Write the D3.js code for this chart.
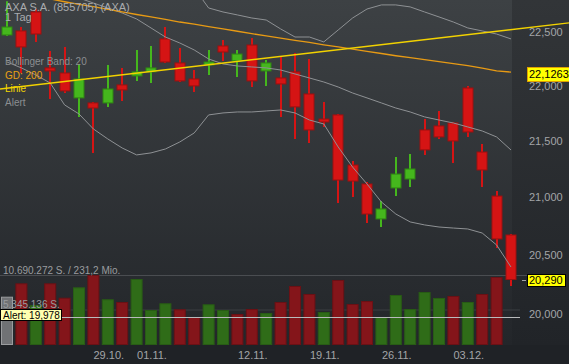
<!DOCTYPE html>
<html>
<head>
<meta charset="utf-8">
<script src="https://cdn.jsdelivr.net/npm/d3@7"></script>
<style>
    body {
        margin: 0;
        background: #1f2226;
        font-family: "Liberation Sans", Arial, sans-serif;
    }
    svg { display: block; }
    .tick-label { fill: #a3a5a8; font-size: 11px; }
    .band { fill: none; stroke: #8e9194; stroke-width: 1px; }
    .vol-label { fill: #9a9c9f; font-size: 10px; }
</style>
</head>
<body>
<script>
// daily candles, AXA S.A., 18.10. - 06.12.
const dates = ["18.10.","19.10.","22.10.","23.10.","24.10.","25.10.","26.10.","29.10.","30.10.","31.10.",
    "01.11.","02.11.","05.11.","06.11.","07.11.","08.11.","09.11.","12.11.","13.11.","14.11.",
    "15.11.","16.11.","19.11.","20.11.","21.11.","22.11.","23.11.","26.11.","27.11.","28.11.",
    "29.11.","30.11.","03.12.","04.12.","05.12.","06.12."];

const open  = [22.472,22.510,22.689,22.165,22.118,21.889,21.843,21.843,22.008,22.091,22.128,22.435,22.211,22.063,22.192,22.369,22.230,22.378,
               22.137,22.072,22.128,21.925,21.697,21.734,21.284,21.116,20.810,21.081,21.160,21.598,21.634,21.661,21.980,21.400,21.010,20.671];
const high  = [22.790,22.547,22.717,22.322,22.360,22.202,21.852,22.192,22.165,22.332,22.369,22.547,22.350,22.146,22.332,22.425,22.332,22.444,
               22.239,22.267,22.304,22.248,21.852,21.743,21.320,21.134,20.967,21.356,21.382,21.697,21.770,21.670,21.999,21.472,21.054,20.680];
const low   = [22.463,22.118,22.407,21.880,21.934,21.716,21.392,21.807,21.861,22.045,22.026,22.211,22.035,21.944,22.100,22.230,22.082,21.989,
               21.999,21.716,21.517,21.481,21.625,20.949,21.002,20.775,20.740,21.010,21.090,21.374,21.517,21.302,21.535,21.090,20.559,20.235];
const close = [22.547,22.360,22.481,22.137,21.953,22.063,21.797,21.971,21.962,22.128,22.165,22.220,22.045,21.999,22.220,22.313,22.294,22.045,
               22.211,22.017,21.807,21.598,21.670,21.151,21.142,20.853,20.897,21.204,21.249,21.419,21.535,21.499,21.580,21.240,20.637,20.290];

const volume = [7330000,9400000,6040000,9400000,7170000,8780000,10690272,6930000,6510000,10070000,5270000,6310000,5380000,4180000,6150000,5270000,
                4650000,5420000,4800000,6510000,8990000,7750000,4960000,9920000,6200000,6660000,4180000,7590000,5420000,8060000,7130000,7440000,
                6510000,7750000,10380000,null];

const bbUpper  = [23.922,23.861,23.812,23.790,23.895,23.901,23.941,23.937,23.922,23.872,23.684,23.479,23.304,22.918,22.727,22.689,22.661,22.632,
                  22.613,22.529,22.453,22.453,22.407,22.519,22.632,22.717,22.756,22.756,22.737,22.689,22.642,22.594,22.538,22.510,22.481,22.435];
const bbMiddle = [23.071,23.013,22.956,22.908,22.860,22.822,22.774,22.727,22.679,22.623,22.538,22.453,22.397,22.332,22.248,22.202,22.183,22.174,
                  22.165,22.146,22.109,22.072,22.035,21.989,21.934,21.889,21.843,21.797,21.761,21.716,21.688,21.661,21.625,21.589,21.535,21.418];
const bbLower  = [22.220,22.165,22.100,22.026,21.825,21.743,21.607,21.517,21.436,21.374,21.392,21.427,21.490,21.571,21.734,21.752,21.761,21.761,
                  21.770,21.779,21.752,21.688,21.652,21.445,21.266,21.116,20.958,20.853,20.784,20.758,20.740,20.731,20.723,20.688,20.585,20.396];
const gd200    = [22.884,22.860,22.836,22.813,22.786,22.762,22.739,22.714,22.690,22.665,22.642,22.618,22.594,22.574,22.550,22.529,22.507,22.484,
                  22.464,22.442,22.422,22.402,22.380,22.361,22.339,22.319,22.299,22.278,22.260,22.241,22.224,22.205,22.187,22.163,22.137,22.1263];

const trendLine = [["18.10.", 21.978], ["06.12.", 22.522]];
const alertLevel = 19.978;
const volumeMax = 10690272;
const volumeMaxTurnover = "231,2 Mio.";

const priceTicks = [20.0, 20.5, 21.0, 21.5, 22.0, 22.5];
const dateTicks = ["29.10.", "01.11.", "12.11.", "19.11.", "26.11.", "03.12."];

const legend = [
    {text: "Bollinger Band: 20", color: "#8b8e91"},
    {text: "GD: 200", color: "#e9a114"},
    {text: "Linie", color: "#f3d700"},
    {text: "Alert", color: "#8b8e91"}
];

const width = 569, height = 364, plotRight = 512, volBottom = 344;

const de = d3.formatLocale({decimal: ",", thousands: ".", grouping: [3], currency: ["", " €"]});
const fmt3 = de.format(".3f"), fmt4 = de.format(".4f"), fmtInt = de.format(",d");

const x = d3.scalePoint().domain(dates).range([7, 511]);
const y = d3.scaleLog().domain([20.0, 22.5]).range([314, 32]);
const yv = d3.scaleLinear().domain([0, volumeMax]).range([volBottom, 275]);

const svg = d3.select("body").append("svg")
    .attr("width", width)
    .attr("height", height);

const defs = svg.append("defs");
const g1 = defs.append("linearGradient").attr("id", "plotBg").attr("x1", 0).attr("x2", 0).attr("y1", 0).attr("y2", 1);
g1.append("stop").attr("offset", 0).attr("stop-color", "#3d4144");
g1.append("stop").attr("offset", 1).attr("stop-color", "#23262a");
const g2 = defs.append("linearGradient").attr("id", "axisBg").attr("x1", 0).attr("x2", 0).attr("y1", 0).attr("y2", 1);
g2.append("stop").attr("offset", 0).attr("stop-color", "#323538");
g2.append("stop").attr("offset", 1).attr("stop-color", "#212428");

svg.append("rect").attr("width", width).attr("height", height).attr("fill", "#1f2226");
svg.append("rect").attr("width", plotRight).attr("height", volBottom + 1).attr("fill", "url(#plotBg)");
svg.append("rect").attr("x", plotRight).attr("width", width - plotRight).attr("height", volBottom + 1).attr("fill", "url(#axisBg)");

// volume grid + labels
svg.append("line").attr("x1", 0).attr("x2", 527).attr("y1", yv(volumeMax) + 0.5).attr("y2", yv(volumeMax) + 0.5)
    .attr("stroke", "#4a4d51");
svg.append("line").attr("x1", 0).attr("x2", 520).attr("y1", yv(volumeMax / 2) + 0.5).attr("y2", yv(volumeMax / 2) + 0.5)
    .attr("stroke", "#3b3e42");

// volume bars
const bw = 12;
svg.append("g").selectAll("rect")
    .data(dates.map((d, i) => ({d, i, v: volume[i]})).filter(e => e.v != null))
    .join("rect")
    .attr("x", e => x(e.d) - bw / 2 + 0.5)
    .attr("y", e => yv(e.v) + 0.5)
    .attr("width", bw - 1)
    .attr("height", e => volBottom - yv(e.v))
    .attr("fill", e => e.i === 0 ? "#707275" : (close[e.i] >= close[e.i - 1] ? "#2f6c18" : "#84151a"))
    .attr("stroke", e => e.i === 0 ? "#9a9c9e" : (close[e.i] >= close[e.i - 1] ? "#285c15" : "#6b1115"));

svg.append("text").attr("class", "vol-label").attr("x", 3).attr("y", yv(volumeMax) - 1.5)
    .text(fmtInt(volumeMax) + " S. / " + volumeMaxTurnover);
svg.append("text").attr("class", "vol-label").attr("x", 3).attr("y", yv(volumeMax / 2) - 1.5)
    .text(fmtInt(volumeMax / 2) + " S.");

// candles
const cw = 11;
const candle = svg.append("g").selectAll("g")
    .data(dates.map((d, i) => ({d, o: open[i], h: high[i], l: low[i], c: close[i]})))
    .join("g");
const up = e => e.c >= e.o;
candle.append("line")
    .attr("x1", e => Math.round(x(e.d))).attr("x2", e => Math.round(x(e.d)))
    .attr("y1", e => y(e.h)).attr("y2", e => y(e.l))
    .attr("stroke", e => up(e) ? "#45b71d" : "#d51414")
    .attr("stroke-width", 2);
candle.append("rect")
    .attr("x", e => Math.round(x(e.d)) - cw / 2 + 0.5)
    .attr("y", e => y(Math.max(e.o, e.c)))
    .attr("width", cw - 1)
    .attr("height", e => Math.max(1.5, y(Math.min(e.o, e.c)) - y(Math.max(e.o, e.c))))
    .attr("fill", e => up(e) ? "#45b71d" : "#d51414")
    .attr("stroke", e => up(e) ? "#2f8513" : "#9c1010")
    .attr("stroke-width", 1);

// indicators
const line = d3.line().x((d, i) => x(dates[i])).y(d => y(d));
[bbUpper, bbMiddle, bbLower].forEach(b => {
    svg.append("path").attr("class", "band").attr("d", line(b));
});
svg.append("path").attr("d", line(gd200)).attr("fill", "none").attr("stroke", "#e79a14").attr("stroke-width", 1.3);

// user trend line, extended over the whole width
const tx1 = x(trendLine[0][0]), ty1 = y(trendLine[0][1]);
const tx2 = x(trendLine[1][0]), ty2 = y(trendLine[1][1]);
const slope = (ty2 - ty1) / (tx2 - tx1);
svg.append("line")
    .attr("x1", 0).attr("y1", ty1 - slope * tx1)
    .attr("x2", width).attr("y2", ty1 + slope * (width - tx1))
    .attr("stroke", "#f2d200").attr("stroke-width", 1.3);

// alert line
svg.append("line").attr("x1", 0).attr("x2", 520)
    .attr("y1", Math.round(y(alertLevel)) + 0.5).attr("y2", Math.round(y(alertLevel)) + 0.5)
    .attr("stroke", "#b9bbbd").attr("stroke-width", 1);
const alertText = "Alert: " + fmt3(alertLevel);
svg.append("rect").attr("x", 0.5).attr("y", Math.round(y(alertLevel)) - 7.5).attr("width", 61).attr("height", 11)
    .attr("fill", "#ffffb0").attr("stroke", "#000");
svg.append("text").attr("x", 3).attr("y", Math.round(y(alertLevel)) + 1.5)
    .attr("font-size", 10).attr("fill", "#000").text(alertText);

// legend
svg.append("text").attr("x", 5).attr("y", 10.5).attr("font-size", 11).attr("fill", "#a9abae").text("AXA S.A. (855705) (AXA)");
svg.append("text").attr("x", 5).attr("y", 21).attr("font-size", 11).attr("fill", "#a9abae").text("1 Tag");
svg.selectAll(".legend").data(legend).join("text")
    .attr("class", "legend")
    .attr("x", 5).attr("y", (d, i) => 65 + i * 13.7)
    .attr("font-size", 10)
    .attr("fill", d => d.color)
    .text(d => d.text);

// price axis
svg.selectAll(".tick-label.price").data(priceTicks).join("text")
    .attr("class", "tick-label price")
    .attr("x", 529).attr("y", d => y(d)).attr("dy", "0.36em")
    .text(d => fmt3(d));

// date axis
svg.selectAll(".tick-label.date").data(dateTicks).join("text")
    .attr("class", "tick-label date")
    .attr("x", d => x(d) + 1).attr("y", 359)
    .attr("text-anchor", "middle")
    .text(d => d);

// value markers on the axis
const gdLast = gd200[gd200.length - 1];
const gdY = Math.round(y(gdLast)) + 2;
svg.append("rect").attr("x", 527.5).attr("y", gdY - 6.5).attr("width", 46).attr("height", 14)
    .attr("fill", "#ffff00").attr("stroke", "#e0a000");
svg.append("text").attr("x", 529).attr("y", gdY + 0.5).attr("dy", "0.36em").attr("font-size", 11).attr("fill", "#000")
    .text(fmt4(gdLast));

const lastClose = close[close.length - 1];
svg.append("line").attr("x1", 522).attr("x2", 526).attr("y1", Math.round(y(lastClose)) + 0.5).attr("y2", Math.round(y(lastClose)) + 0.5)
    .attr("stroke", "#a3a5a8");
svg.append("rect").attr("x", 527.5).attr("y", Math.round(y(lastClose)) - 5.5).attr("width", 38).attr("height", 12)
    .attr("fill", "#ffff00").attr("stroke", "#000");
svg.append("text").attr("x", 529).attr("y", y(lastClose)).attr("dy", "0.38em").attr("font-size", 11).attr("fill", "#000")
    .text(fmt3(lastClose));
</script>
</body>
</html>
